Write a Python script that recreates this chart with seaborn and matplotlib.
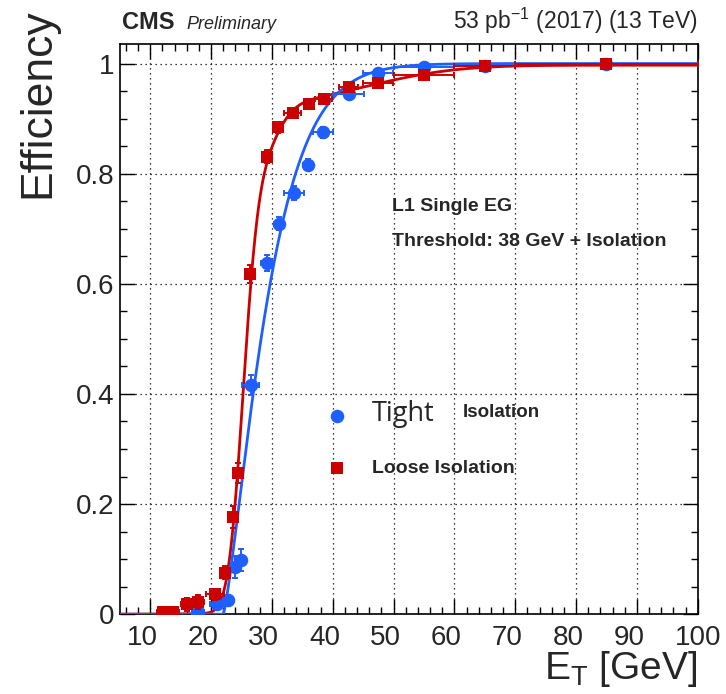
import math
import numpy as np
import seaborn as sns
import matplotlib
matplotlib.use("Agg")
import matplotlib.pyplot as plt
from matplotlib.ticker import MultipleLocator
from matplotlib.transforms import ScaledTranslation

# data
tight_x = [12.1, 13.8, 17.9, 20.9, 22.8, 23.9, 25.0, 26.5, 29.2, 31.1, 33.6, 35.9, 38.4, 42.6, 47.4, 55, 65, 85]
tight_y = [0.0, 0.0, 0.004, 0.019, 0.025, 0.086, 0.098, 0.416, 0.638, 0.709, 0.765, 0.816, 0.875, 0.944, 0.982, 0.993, 0.996, 1.0]
tight_xerr = [1, 1, 1, 1, 0.6, 0.6, 0.6, 1.4, 1.0, 0.8, 1.6, 0.8, 1.6, 2.5, 2.5, 5, 5, 15]
tight_yerr = [0.005, 0.005, 0.005, 0.01, 0.01, 0.02, 0.02, 0.018, 0.015, 0.012, 0.012, 0.01, 0.01, 0.006, 0.005, 0.004, 0.003, 0.002]

loose_x = [12.1, 13.8, 16.0, 17.9, 20.7, 22.3, 23.6, 24.4, 26.4, 29.2, 31.0, 33.4, 36.1, 38.5, 42.6, 47.4, 55, 65, 85]
loose_y = [0.004, 0.004, 0.018, 0.022, 0.036, 0.075, 0.176, 0.256, 0.618, 0.831, 0.884, 0.911, 0.927, 0.936, 0.958, 0.965, 0.980, 0.995, 1.0]
loose_xerr = [1, 1, 1, 1, 1.5, 0.5, 0.6, 0.6, 0.6, 0.6, 0.6, 1.4, 0.6, 1.4, 1.6, 2.5, 5, 5, 15]
loose_yerr = [0.005, 0.005, 0.012, 0.012, 0.01, 0.012, 0.02, 0.018, 0.017, 0.012, 0.01, 0.008, 0.008, 0.006, 0.005, 0.005, 0.004, 0.003, 0.002]

# fit results (turn-on curves)
tight_fit_par = {"x0": 22.0, "lam": 8.25, "k": 1.3}
loose_fit_w = [0.75, 0.17, 0.08]
loose_fit_mu = [25.2, 29.5, 45.0]
loose_fit_sigma = [1.9, 3.0, 12.0]
loose_plateau = 0.997

x_ticks = [10, 20, 30, 40, 50, 60, 70, 80, 90, 100]
y_ticks = [0, 0.2, 0.4, 0.6, 0.8, 1.0]
y_ticklabels = ["0", "0.2", "0.4", "0.6", "0.8", "1"]

blue = "#1f5fff"
red = "#cc0000"


def phi(z):
    return 0.5 * (1 + np.vectorize(math.erf)(z / math.sqrt(2)))


def tight_fit(x, p):
    d = np.clip(x - p["x0"], 0, None)
    return 1 - np.exp(-(d / p["lam"]) ** p["k"])


def loose_fit(x):
    tot = np.zeros_like(x)
    for w, m, s in zip(loose_fit_w, loose_fit_mu, loose_fit_sigma):
        tot = tot + w * phi((x - m) / s)
    return loose_plateau * tot


sns.set_style("ticks")
plt.rcParams['font.family'] = ['Liberation Sans', 'DejaVu Sans']

fig, ax = plt.subplots(figsize=(7.26, 6.94), dpi=100)
fig.subplots_adjust(left=0.165, right=0.961, top=0.937, bottom=0.115)

x_fit = np.linspace(5, 100, 800)
sns.lineplot(x=x_fit, y=loose_fit(x_fit), color=red, lw=2.0, ax=ax, zorder=3)
sns.lineplot(x=x_fit, y=tight_fit(x_fit, tight_fit_par), color=blue, lw=2.0, ax=ax, zorder=3)

ax.errorbar(tight_x, tight_y, xerr=tight_xerr, yerr=tight_yerr, fmt='none', ecolor=blue,
            elinewidth=1.4, capsize=2.5, capthick=1.4, zorder=4)
sns.scatterplot(x=tight_x, y=tight_y, marker='o', s=95, color=blue, linewidth=0, ax=ax,
                label='Tight', zorder=5)
ax.errorbar(loose_x, loose_y, xerr=loose_xerr, yerr=loose_yerr, fmt='none', ecolor=red,
            elinewidth=1.4, capsize=2.5, capthick=1.4, zorder=6)
sns.scatterplot(x=loose_x, y=loose_y, marker='s', s=85, color=red, linewidth=0, ax=ax,
                label='Loose Isolation', zorder=7)

ax.set_xlim(5, 100)
ax.set_ylim(0, 1.036)
ax.set_xticks(x_ticks)
ax.set_yticks(y_ticks)
ax.set_yticklabels(y_ticklabels)
ax.xaxis.set_minor_locator(MultipleLocator(2))
ax.yaxis.set_minor_locator(MultipleLocator(0.05))
ax.tick_params(which='both', direction='in', top=True, right=True, labelsize=20, color='black')
ax.tick_params(which='major', length=11, width=1.0)
ax.tick_params(which='minor', length=5, width=1.0)
ax.tick_params(axis='x', pad=8)
ax.tick_params(axis='y', pad=4)
# ROOT-style labels sit a little left of their ticks
for lab in ax.get_xticklabels()[:-1]:
    lab.set_transform(lab.get_transform() + ScaledTranslation(-0.08, 0, fig.dpi_scale_trans))
for sp in ax.spines.values():
    sp.set_linewidth(1.2)
    sp.set_color('black')
ax.grid(True, which='major', linestyle=(0, (1, 3)), color='black', linewidth=0.9)
ax.set_xlabel('')
ax.set_ylabel('')

fig.text(0.052, 0.988, 'Efficiency', rotation=90, ha='center', va='top', fontsize=32)
fig.text(0.961, 0.022, r'E$_\mathregular{T}$ [GeV]', ha='right', va='baseline', fontsize=28)

fig.text(0.168, 0.958, 'CMS', fontsize=17, fontweight='bold', ha='left', va='baseline')
fig.text(0.257, 0.958, 'Preliminary', fontsize=13, fontstyle='italic', ha='left', va='baseline')
fig.text(0.961, 0.958, r'53 pb$^{\mathregular{-1}}$ (2017) (13 TeV)', fontsize=16.5, ha='right', va='baseline')

ax.text(0.471, 0.715, 'L1 Single EG', transform=ax.transAxes, fontsize=14, fontweight='bold', va='center')
ax.text(0.471, 0.653, 'Threshold: 38 GeV + Isolation', transform=ax.transAxes, fontsize=14,
        fontweight='bold', va='center')

leg = ax.legend(loc='upper left', bbox_to_anchor=(0.346, 0.392), frameon=False, borderpad=0,
                handlelength=0.8, handletextpad=1.4, labelspacing=1.6,
                prop={'size': 14, 'weight': 'bold'})
leg.get_texts()[0].set_fontsize(19.5)
leg.get_texts()[0].set_fontweight('normal')
leg.get_texts()[0].set_family(['Open Sans', 'DejaVu Sans'])
ax.text(0.593, 0.354, 'Isolation', transform=ax.transAxes, fontsize=13.5, fontweight='bold', va='center')

fig.savefig('out.png', dpi=100)
